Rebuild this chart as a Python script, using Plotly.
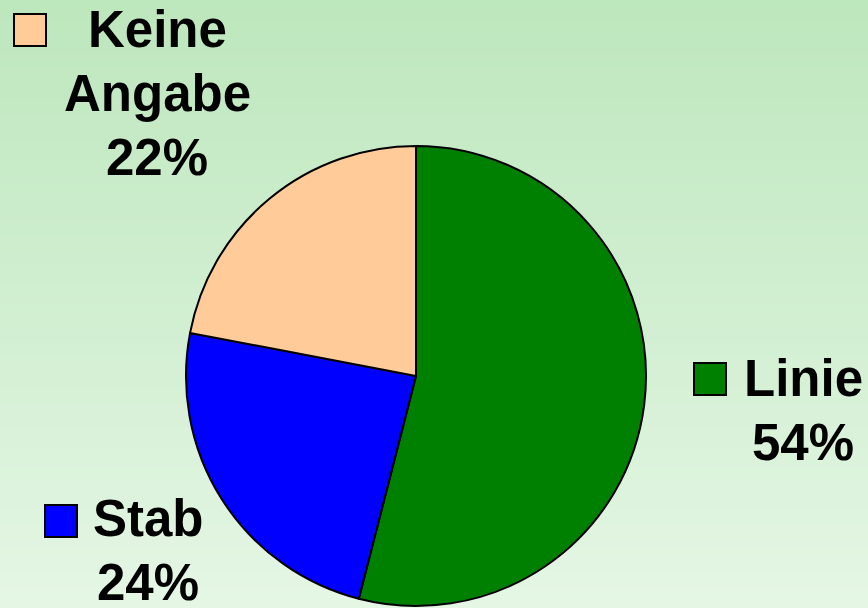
import plotly.graph_objects as go

labels = ["Linie", "Stab", "Keine Angabe"]
values = [54, 24, 22]
colors = ["#008000", "#0000FF", "#FFCC99"]
label_lines = [["Linie", "54%"], ["Stab", "24%"], ["Keine", "Angabe", "22%"]]

W, H = 868, 608
fig = go.Figure()

# background gradient
fig.add_trace(go.Heatmap(
    x=[0, W], y=[0, H], z=[[0, 0], [1, 1]],
    colorscale=[[0, "#BDE7BD"], [1, "#E5F6E5"]],
    zsmooth="best", showscale=False, hoverinfo="skip",
))

cx, cy, r = 416, 376, 230
fig.add_trace(go.Pie(
    labels=labels, values=values, sort=False, direction="clockwise", rotation=0,
    marker=dict(colors=colors, line=dict(color="black", width=2)),
    textinfo="none", showlegend=False, hoverinfo="label+percent",
    domain=dict(x=[(cx - r) / W, (cx + r) / W], y=[(H - cy - r) / H, (H - cy + r) / H]),
))

font = dict(family="Liberation Sans, Arial, sans-serif", size=51, color="black", weight="bold")

# label block placement: (center x, first-line middle y, square x0, square y0)
blocks = [
    (803, 378, 694, 363),
    (148, 518, 45, 505),
    (157, 29, 14, 14),
]
line_h = 64
annotations = []
shapes = []
for i, (bx, by, sx, sy) in enumerate(blocks):
    for j, t in enumerate(label_lines[i]):
        annotations.append(dict(
            x=bx, y=by + j * line_h, xref="x", yref="y", text=t, showarrow=False,
            font=font, xanchor="center", yanchor="middle",
        ))
    shapes.append(dict(type="rect", xref="x", yref="y", x0=sx, y0=sy, x1=sx + 32, y1=sy + 32,
                       fillcolor=colors[i], line=dict(color="black", width=2)))

fig.update_layout(
    width=W, height=H, margin=dict(l=0, r=0, t=0, b=0),
    paper_bgcolor="#D0EED0", plot_bgcolor="rgba(0,0,0,0)",
    xaxis=dict(range=[0, W], visible=False, fixedrange=True),
    yaxis=dict(range=[H, 0], visible=False, fixedrange=True),
    annotations=annotations, shapes=shapes,
)

fig.write_html("out.html", config={"displayModeBar": False},
               post_script="document.body.style.margin='0';document.body.style.overflow='hidden';")
